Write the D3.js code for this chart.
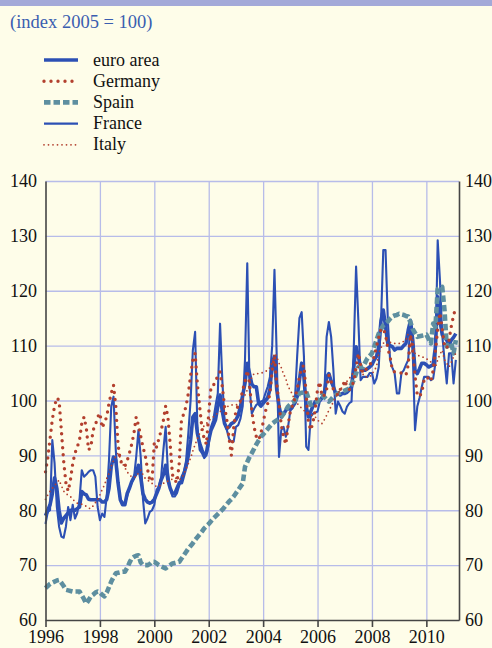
<!DOCTYPE html>
<html>
<head>
<meta charset="utf-8">
<script src="https://cdn.jsdelivr.net/npm/d3@7"></script>
<style>
  body { margin: 0; background: #fefde9; }
  svg { display: block; }
</style>
</head>
<body>
<div id="chart"></div>
<script>
// monthly values, Jan 1996 - Feb 2011 (index 2005 = 100)
var euroArea = [
  79, 80, 81, 83, 85.9, 84, 80, 77.7, 78.5, 79, 79.5, 80,                 // 1996
  80, 80, 80.3, 80.6, 83.4, 83, 82.8, 82, 81.9, 81.9, 81.9, 81.9,         // 1997
  81.9, 81.5, 81.5, 82, 84, 88, 89.7, 89.1, 85, 81.9, 81, 81,             // 1998
  83, 84, 85.2, 86, 86.7, 88.2, 86, 83, 82, 81.5, 81.3, 81.5,             // 1999
  82, 83, 84, 85.5, 86.5, 88.2, 85.5, 84, 83, 83, 84, 85,                 // 2000
  85, 86.5, 88, 90, 92.8, 97, 97.6, 94, 92.2, 91, 90, 90.5,               // 2001
  92.8, 94.6, 95.5, 96.5, 98.9, 101, 98, 95.8, 94.9, 95.2, 95.8, 96,      // 2002
  96.5, 97.3, 98.9, 101, 103.1, 106.8, 104.9, 103, 102.5, 102.5, 99.5, 99, // 2003
  99.5, 100, 100.5, 102, 106.8, 108, 102, 99, 97, 97.5, 98.2, 98.5,       // 2004
  98.5, 98.9, 99.5, 100.7, 103.7, 106.8, 104.3, 98.9, 97, 98, 99, 99.8,   // 2005
  99.8, 100, 100.5, 101.3, 104.3, 104.9, 103.5, 102.5, 101.3, 101.3, 101, 101.3, // 2006
  101.3, 101.5, 101.9, 102.5, 106.1, 109.8, 108, 106.1, 105.5, 105.5, 105.8, 106.1, // 2007
  106.5, 107.4, 108, 109.8, 114.6, 116.5, 113.5, 110.4, 110, 109.8, 109.2, 109.5, // 2008
  109.5, 109.5, 110, 110.4, 112.8, 114.6, 111, 105.5, 104.9, 105.8, 106.8, 106.8, // 2009
  106.5, 106.1, 106.3, 106.5, 109.8, 118.9, 114.6, 112, 111.5, 111, 110, 111, // 2010
  111.5, 112.2                                                            // 2011
]

var germany = [
  87, 89.5, 93, 96.5, 99, 100.5, 100, 94.5, 89, 85, 83.5, 85.5,
  88.5, 90.4, 91.5, 92.8, 95.8, 97, 95, 91, 91.5, 94.6, 95.5, 97,
  97.7, 95, 96, 97, 99.5, 101.3, 102.8, 99, 92, 89, 88.5, 88,
  89, 90.4, 92, 94, 97, 95.5, 93.5, 91.5, 90, 87.5, 85.5, 85.3,
  92.4, 91.5, 93, 94.5, 96.4, 99, 97, 92, 86.5, 85.5, 85, 88.6,
  96.7, 97.5, 99, 101.3, 104.5, 107.4, 108.6, 103, 98.9, 95, 93, 92,
  97.6, 102.5, 102.7, 103.5, 104.5, 105.2, 102.5, 98.9, 96.4, 93, 90, 95,
  98.2, 99, 100, 101.9, 103.5, 105.5, 103.1, 98.2, 95.2, 93.4, 92.8, 94,
  96, 98, 99.4, 101.3, 105.5, 108, 103, 99.5, 95.5, 93.5, 92, 95.5,
  98, 99.2, 100.5, 102, 104.3, 106, 106.4, 101, 96, 94.6, 96, 98.5,
  102, 103.4, 100.7, 101, 102, 104.6, 103.5, 102, 101.5, 101, 102, 102.5,
  103.7, 102.5, 102, 102.5, 103.5, 106, 108.6, 106.5, 105, 105.5, 106, 106.5,
  107, 108, 109.8, 111.5, 113, 113.1, 112, 109.5, 108, 105.5, 105.2, 105.2,
  105, 105, 104.8, 104.6, 106.5, 112, 109, 104.5, 101, 100.7, 101.5, 103.7,
  104.3, 104, 103.5, 105.5, 109, 113, 116, 113, 110, 109.5, 111, 113.5,
  115.5, 117
]

var spain = [
  65.8, 66.2, 66.6, 66.8, 67, 67.2, 67.3, 66.8, 66.2, 65.5, 65.4, 65.3,
  65.2, 65.2, 65.2, 65.2, 64.5, 63.8, 63, 63.6, 64.3, 64.6, 65, 65.2,
  65, 64.6, 64.3, 65, 66, 67, 67.8, 68.5, 68.6, 68.7, 68.8, 68.8,
  69.5, 70.4, 71.2, 71.5, 71.7, 71.8, 70.5, 70, 70, 70, 70.2, 70.6,
  70.6, 70.3, 70, 69.8, 69.6, 69.4, 69.7, 70, 70.3, 70.4, 70.5, 70.6,
  71.2, 71.8, 72.4, 73, 73.5, 74, 74.6, 75.1, 75.6, 76.1, 76.7, 77.1,
  77.5, 78, 78.5, 78.9, 79.3, 79.7, 80.1, 80.6, 81.1, 81.6, 82, 82.5,
  83.1, 83.7, 84.3, 84.9, 87.9, 88.8, 89.7, 90.4, 91.2, 92, 92.7, 93.4,
  93.8, 94.3, 94.8, 95.3, 95.8, 96.1, 96.4, 96.7, 97, 97.6, 98.2, 98.9,
  99.3, 99.6, 100, 100.6, 101.3, 101.4, 101.5, 101.6, 100.4, 99.2, 99.4, 99.6,
  99.8, 100.4, 101, 100.6, 100.2, 99.8, 100.2, 100.7, 101, 101.3, 101.4, 101.6,
  101.8, 102, 102.2, 103, 103.7, 104.9, 106.1, 106.1, 106.1, 106.9, 107.7, 108.1,
  108.6, 109.8, 111, 112.2, 113, 113.7, 114, 114.4, 114.9, 115.3, 115.5, 115.6,
  115.8, 115.7, 115.6, 115.4, 115.3, 114.2, 113, 112.3, 111.6, 111.7, 111.8, 111.9,
  112, 111.2, 110.4, 114, 113.4, 120.3, 120.5, 120.7, 116.5, 109.8, 110.1, 110.4,
  108.6, 111
]

var france = [
  77.5, 79.7, 80, 92.8, 88.6, 80.6, 77, 75.2, 75, 77, 80.6, 78.2,
  81, 78.5, 79.5, 81.9, 87.3, 86.1, 86.5, 87, 87.3, 87.3, 86.1, 80.6,
  78.2, 79.4, 78.8, 82.5, 89.1, 98.9, 100.7, 91, 84.9, 81.9, 81.5, 81.2,
  82.5, 84, 85, 85.8, 89.7, 94.6, 89.7, 82, 77.6, 78.5, 79.7, 80,
  81, 83.7, 84.3, 86, 91, 95.2, 87, 84, 82.5, 82.5, 83.1, 84.5,
  86.1, 87, 89, 94, 100, 109.2, 112.5, 95, 91, 90.4, 89.5, 90,
  92, 95.2, 96.4, 99, 101.3, 114, 103.7, 96, 94.6, 93, 92.5, 92.5,
  95.2, 95.5, 96.7, 99, 107.4, 125, 102.5, 97.6, 98.5, 99.2, 99.5, 99.8,
  100, 101.3, 102.5, 104.3, 110, 123.8, 108, 89.7, 94.6, 95.2, 93.4, 95.2,
  98.2, 98.6, 100, 108, 115, 116.1, 108, 91.6, 91, 97, 97.6, 97.8,
  98, 99.8, 100.5, 101.3, 111.6, 114.3, 111.6, 105.5, 97.6, 99.8, 99, 98,
  97.6, 98.9, 99.5, 99.8, 109.8, 124.4, 114.6, 103.7, 104.3, 104.3, 104.3, 105,
  105, 103.1, 104, 106.1, 114.6, 127.4, 127.4, 114.6, 107.4, 106, 105, 101.3,
  101.3, 105, 105.5, 106.5, 107.4, 114.6, 108.6, 94.6, 98.9, 100.5, 102.5, 104.3,
  104.3, 104.3, 103.7, 104, 106.8, 129.2, 121.9, 112, 107.4, 103.1, 108.6, 108.6,
  103.1, 107.4
]

var italy = [
  82, 82.8, 83.5, 84, 84.5, 85, 85.5, 84.5, 83.5, 83, 82.8, 82.5,
  82, 81.6, 81.3, 81.2, 81.1, 81, 80.7, 80.4, 80.3, 80.8, 81.4, 81.9,
  82.8, 83.8, 84.6, 85.8, 86.7, 88, 89.1, 89.8, 90.4, 89.5, 88.5, 87.8,
  87, 86.5, 86.1, 86.1, 86.1, 86.8, 87.3, 86.5, 85.8, 85.5, 85.2, 84.9,
  84.6, 84.3, 84.4, 84.6, 84.9, 85.1, 85.3, 85.5, 85.7, 85.9, 85.8, 85.6,
  85.8, 86.6, 87.5, 88.5, 89.5, 90.8, 92, 93, 94, 94.8, 95.4, 95.8,
  96.3, 96.7, 97, 97.4, 97.7, 98, 98.2, 98.5, 98.8, 99.1, 99.2, 99.2,
  99.2, 99.3, 99.6, 100.3, 101, 101.9, 102.8, 104.3, 104.9, 104.9, 104.9, 105,
  105.1, 105.3, 105.5, 106, 107, 108.6, 108, 106.8, 106, 104.8, 104, 102.5,
  101.9, 101, 100, 99.5, 99, 98.6, 98.2, 97.8, 97.6, 97.4, 97.2, 97,
  96.5, 96, 95.8, 96.5, 97.3, 98.2, 98.9, 99.8, 100.7, 101.3, 101.9, 102.5,
  103.1, 103.5, 104, 104.6, 105.2, 105.7, 106.1, 105.5, 104.8, 104.3, 104.3, 104.3,
  104.8, 105.5, 106.1, 108.6, 109.6, 110.4, 111, 110.8, 110.6, 110.4, 110.4, 110.4,
  110.4, 110.5, 110.8, 111, 112.2, 111.8, 111, 108.6, 108.3, 108.1, 108, 107.8,
  107.6, 107.4, 107, 106.5, 106.1, 107.4, 108.4, 109.2, 107.4, 106.8, 106.1, 107,
  108, 108.6
]

var months = d3.range(euroArea.length).map(function (i) { return 1996 + i / 12 })
var yearTicks = [1996, 1998, 2000, 2002, 2004, 2006, 2008, 2010]
var valueTicks = [60, 70, 80, 90, 100, 110, 120, 130, 140]

var width = 492
var height = 648
var plot = { left: 45.5, right: 459, top: 181, bottom: 620 }
var serif = "'Liberation Serif', 'Times New Roman', serif"

var svg = d3.select("#chart").append("svg")
  .attr("width", width)
  .attr("height", height)

svg.append("rect").attr("width", width).attr("height", height).attr("fill", "#fefde9")
svg.append("rect").attr("width", width).attr("height", 6).attr("fill", "#a3a9d8")

svg.append("text")
  .attr("x", 10).attr("y", 28)
  .attr("fill", "#3a5db0")
  .style("font", "18.5px " + serif)
  .text("(index 2005 = 100)")

var x = d3.scaleLinear().domain([1996, 2011.2]).range([plot.left, plot.right])
var y = d3.scaleLinear().domain([60, 140]).range([plot.bottom, plot.top])

// grid lines
svg.append("g")
  .attr("transform", "translate(" + plot.left + ",0)")
  .call(d3.axisLeft(y).tickValues(valueTicks.slice(1)).tickSize(-(plot.right - plot.left)).tickFormat(""))
  .call(function (g) { g.select(".domain").remove() })
  .selectAll("line").attr("stroke", "#b7bce9").attr("stroke-width", 1.3)

svg.append("g")
  .attr("transform", "translate(0," + plot.bottom + ")")
  .call(d3.axisBottom(x).tickValues(yearTicks.slice(1)).tickSize(-(plot.bottom - plot.top)).tickFormat(""))
  .call(function (g) { g.select(".domain").remove() })
  .selectAll("line").attr("stroke", "#b7bce9").attr("stroke-width", 1.3)

// series
var series = [
  { name: "euro area", values: euroArea, color: "#2c50b4", width: 3.6, dash: null, cap: "butt" },
  { name: "Germany", values: germany, color: "#b3402e", width: 3.4, dash: "0,7", cap: "round" },
  { name: "Spain", values: spain, color: "#5e8fa0", width: 4.6, dash: "6.5,3", cap: "butt" },
  { name: "France", values: france, color: "#2c50b4", width: 2.1, dash: null, cap: "butt" },
  { name: "Italy", values: italy, color: "#b3402e", width: 1.8, dash: "0,4.5", cap: "round" }
]

var line = d3.line()
  .x(function (d, i) { return x(months[i]) })
  .y(function (d) { return y(d) })

var drawOrder = [0, 3, 2, 1, 4]
drawOrder.forEach(function (k) {
  var s = series[k]
  svg.append("path")
    .datum(s.values)
    .attr("d", line)
    .attr("fill", "none")
    .attr("stroke", s.color)
    .attr("stroke-width", s.width)
    .attr("stroke-linecap", s.cap)
    .attr("stroke-linejoin", "round")
    .attr("stroke-dasharray", s.dash)
})

// axes
var axisColor = "#454545"

var yl = svg.append("g")
  .attr("transform", "translate(" + plot.left + ",0)")
  .call(d3.axisLeft(y).tickValues(valueTicks).tickSize(0).tickPadding(8.5))
yl.select(".domain").attr("stroke", axisColor).attr("stroke-width", 1.6)
yl.selectAll("text").style("font", "18px " + serif).attr("fill", "#111")

var yr = svg.append("g")
  .attr("transform", "translate(" + plot.right + ",0)")
  .call(d3.axisRight(y).tickValues(valueTicks).tickSize(0).tickPadding(6))
yr.select(".domain").attr("stroke", axisColor).attr("stroke-width", 1.6)
yr.selectAll("text").style("font", "18px " + serif).attr("fill", "#111")

var xb = svg.append("g")
  .attr("transform", "translate(0," + plot.bottom + ")")
  .call(d3.axisBottom(x).tickValues(yearTicks).tickSize(7).tickSizeOuter(0).tickPadding(3).tickFormat(d3.format("d")))
xb.select(".domain").attr("stroke", axisColor).attr("stroke-width", 1.6)
xb.selectAll("line").attr("stroke", axisColor).attr("stroke-width", 1.6)
xb.selectAll("text").style("font", "18px " + serif).attr("fill", "#111")

// legend
var legend = svg.append("g")
series.forEach(function (s, i) {
  var ly = 60 + i * 21.2
  legend.append("line")
    .attr("x1", 44).attr("x2", 78)
    .attr("y1", ly).attr("y2", ly)
    .attr("stroke", s.color)
    .attr("stroke-width", s.width)
    .attr("stroke-linecap", s.cap)
    .attr("stroke-dasharray", s.dash)
  legend.append("text")
    .attr("x", 93).attr("y", ly + 5.5)
    .attr("fill", "#111")
    .style("font", "18px " + serif)
    .text(s.name)
})
</script>
</body>
</html>
